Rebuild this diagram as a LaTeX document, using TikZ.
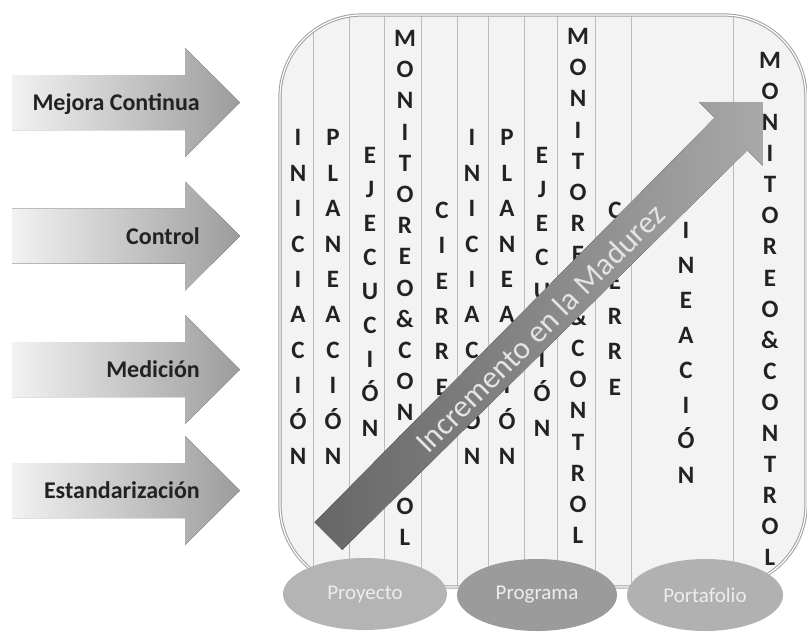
\documentclass[tikz,border=0pt]{standalone}
\usepackage{fontspec}
\setmainfont{Carlito}
\usetikzlibrary{shapes.geometric}
\definecolor{txt}{HTML}{222222}
\definecolor{arL}{HTML}{F2F2F2}
\definecolor{arR}{HTML}{9C9C9C}
\definecolor{boxfill}{HTML}{F3F3F3}
\definecolor{boxline}{HTML}{A0A0A0}
\definecolor{colline}{HTML}{BBBBBB}
\definecolor{dA}{HTML}{666666}
\definecolor{dB}{HTML}{A8A8A8}
\definecolor{eA}{HTML}{B4B4B4}
\definecolor{eB}{HTML}{9B9B9B}
\definecolor{eC}{HTML}{B1B1B1}
\definecolor{etxt}{HTML}{EDEDED}
\definecolor{mtxt}{HTML}{E4E4E4}
\tikzset{
  lbl/.style={font=\bfseries\fontsize{24}{28}\selectfont, text=txt, inner sep=0pt},
  coltxt/.style={font=\bfseries\fontsize{25}{35.4}\selectfont, align=center, inner sep=0pt, text=txt},
  montxt/.style={font=\bfseries\fontsize{25}{31.2}\selectfont, align=center, inner sep=0pt, text=txt},
  levelell/.style={ellipse, minimum width=164pt, minimum height=72pt, inner sep=0pt, text=etxt, font=\fontsize{21}{25}\selectfont},
  sepline/.style={draw=colline, line width=0.8pt}
}
\begin{document}
\begin{tikzpicture}[x=1pt,y=-1pt]
\useasboundingbox (0,0) rectangle (807,633);
\fill[white] (0,0) rectangle (807,633);

% left arrows
\foreach \c/\t/\n in {102.5/Mejora Continua/a1, 236/Control/a2, 369.5/Medición/a3, 490.5/Estandarización/a4}{
  \fill[left color=arL, right color=arR]
    (12,{\c-27.5}) -- (185,{\c-27.5}) -- (185,{\c-54.5}) -- (240,\c) -- (185,{\c+54.5}) -- (185,{\c+27.5}) -- (12,{\c+27.5}) -- cycle;
  \node[lbl, anchor=base east] (\n) at (200,{\c+8}) {\t};
}

% main box
\fill[boxfill, rounded corners=82pt] (280,15) rectangle (806,587);
\begin{scope}
  \clip[rounded corners=82pt] (280,15) rectangle (806,587);
  \foreach \x in {313,349,384,421,457,488,524,557,595,631,733}{
    \draw[sepline] (\x,15) -- (\x,587);
  }
\end{scope}
\draw[draw=boxline, line width=1pt, double=white, double distance=1.2pt, rounded corners=82pt] (280,15) rectangle (806,587);

% columns
\node[coltxt] (p1) at (298,297) {I\\N\\I\\C\\I\\A\\C\\I\\Ó\\N};
\node[coltxt] (p2) at (333,297) {P\\L\\A\\N\\E\\A\\C\\I\\Ó\\N};
\node[coltxt,font=\bfseries\fontsize{25}{34.1}\selectfont] (p3) at (370,291.5) {E\\J\\E\\C\\U\\C\\I\\Ó\\N};
\node[montxt] (p4) at (405,288) {M\\O\\N\\I\\T\\O\\R\\E\\O\\\&\\C\\O\\N\\T\\R\\O\\L};
\node[coltxt] (p5) at (442,298.5) {C\\I\\E\\R\\R\\E};
\node[coltxt] (g1) at (472,297) {I\\N\\I\\C\\I\\A\\C\\I\\Ó\\N};
\node[coltxt] (g2) at (507,297) {P\\L\\A\\N\\E\\A\\C\\I\\Ó\\N};
\node[coltxt,font=\bfseries\fontsize{25}{34.1}\selectfont] (g3) at (542,291.5) {E\\J\\E\\C\\U\\C\\I\\Ó\\N};
\node[montxt] (g4) at (578,286) {M\\O\\N\\I\\T\\O\\R\\E\\O\\\&\\C\\O\\N\\T\\R\\O\\L};
\node[coltxt] (g5) at (615,298.5) {C\\I\\E\\R\\R\\E};
\node[coltxt,font=\bfseries\fontsize{25}{35}\selectfont] (f1) at (686,318) {A\\L\\I\\N\\E\\A\\C\\I\\Ó\\N};
\node[montxt,font=\bfseries\fontsize{25}{31.1}\selectfont] (f2) at (770,309) {M\\O\\N\\I\\T\\O\\R\\E\\O\\\&\\C\\O\\N\\T\\R\\O\\L};

% diagonal arrow
\fill[left color=dA, right color=dB]
  (314.7,522.2) -- (714.7,117.7) -- (699.2,102.2) -- (762.8,102.2) -- (762.8,165.8) -- (747.3,150.3) -- (342.3,549.8) -- cycle;
\node[rotate=45, font=\fontsize{31.5}{36}\selectfont, text=mtxt, inner sep=0pt] (mad) at (540,328) {Incremento en la Madurez};

% levels
\node[levelell, fill=eA] (proy) at (365,594) {Proyecto};
\node[levelell, fill=eB, minimum width=160pt] (prog) at (537,595) {Programa};
\node[levelell, fill=eC, minimum width=156pt] (port) at (705,595) {Portafolio};
\end{tikzpicture}
\end{document}
